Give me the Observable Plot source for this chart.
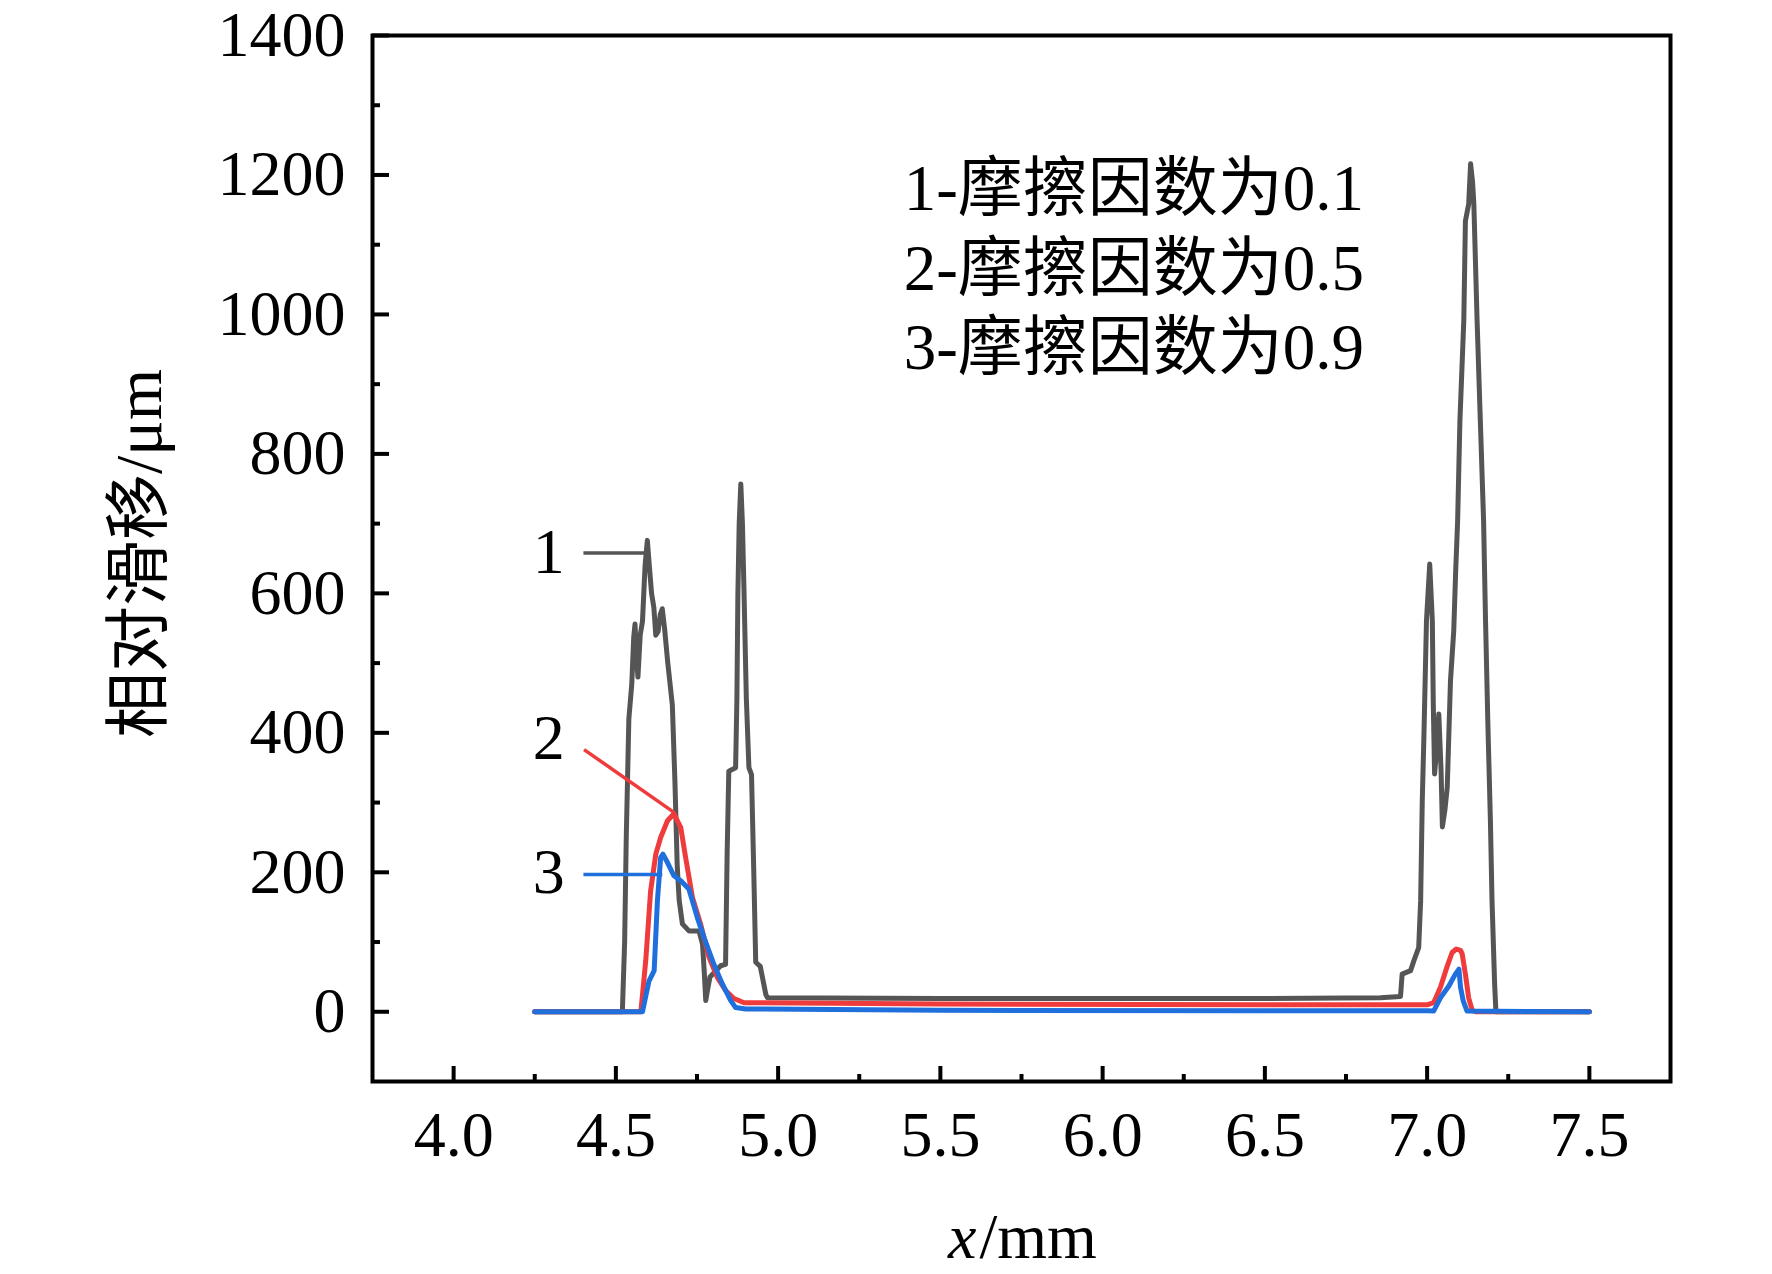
<!DOCTYPE html>
<html><head><meta charset="utf-8">
<script src="https://cdn.jsdelivr.net/npm/d3@7"></script>
<script src="https://cdn.jsdelivr.net/npm/@observablehq/plot@0.6"></script>
<style>body{margin:0;background:#fff} svg{display:block;max-width:none!important}</style>
</head><body><div id="chart"></div>
<script>
// ---- data ----
const xMajor = [4.0, 4.5, 5.0, 5.5, 6.0, 6.5, 7.0, 7.5];
const xMinor = [4.25, 4.75, 5.25, 5.75, 6.25, 6.75, 7.25];
const yMajor = [0, 200, 400, 600, 800, 1000, 1200, 1400];
const yMinor = [100, 300, 500, 700, 900, 1100, 1300];

// curve 1: friction coefficient 0.1
const curve1 = [[4.25,0],[4.52,0],[4.527,100],[4.532,250],[4.540,420],[4.549,470],[4.555,537],[4.559,556],[4.564,505],[4.568,480],[4.575,540],[4.582,560],[4.590,640],[4.597,676],[4.603,640],[4.610,600],[4.617,580],[4.623,540],[4.630,545],[4.637,570],[4.643,578],[4.650,550],[4.660,500],[4.674,440],[4.682,330],[4.689,210],[4.695,160],[4.705,126],[4.725,116],[4.756,116],[4.767,97],[4.772,60],[4.777,16],[4.782,30],[4.790,50],[4.823,66],[4.838,68],[4.843,230],[4.848,345],[4.869,350],[4.873,450],[4.876,600],[4.880,700],[4.885,757],[4.890,700],[4.895,600],[4.902,450],[4.910,350],[4.918,340],[4.925,200],[4.931,71],[4.945,65],[4.962,25],[4.967,20],[5.5,19],[6.0,19],[6.5,19],[6.856,20],[6.918,22],[6.923,54],[6.949,59],[6.959,73],[6.974,92],[6.980,159],[6.985,302],[6.990,393],[6.998,561],[7.008,642],[7.016,561],[7.019,441],[7.023,341],[7.030,380],[7.036,427],[7.043,346],[7.047,265],[7.055,290],[7.062,322],[7.072,475],[7.082,546],[7.088,632],[7.094,704],[7.101,847],[7.113,991],[7.118,1134],[7.128,1158],[7.134,1216],[7.140,1190],[7.144,1158],[7.154,991],[7.164,847],[7.174,704],[7.180,561],[7.187,417],[7.195,274],[7.200,159],[7.208,40],[7.212,0],[7.5,0]];

// curve 2: friction coefficient 0.5
const curve2 = [[4.25,0],[4.577,0],[4.592,73],[4.607,173],[4.623,226],[4.638,250],[4.659,274],[4.679,284],[4.700,264],[4.715,221],[4.736,164],[4.761,126],[4.787,78],[4.813,49],[4.839,30],[4.864,19],[4.895,13],[5.5,11],[6.5,10],[7.00,10],[7.020,13],[7.041,35],[7.061,64],[7.077,85],[7.090,90],[7.103,88],[7.108,83],[7.118,54],[7.128,20],[7.139,2],[7.15,0],[7.5,0]];

// curve 3: friction coefficient 0.9
const curve3 = [[4.25,0],[4.582,0],[4.602,44],[4.618,59],[4.628,159],[4.638,221],[4.645,226],[4.659,214],[4.679,195],[4.700,188],[4.725,176],[4.751,135],[4.772,106],[4.802,68],[4.828,40],[4.854,16],[4.869,6],[4.90,4],[5.5,2],[6.5,1.5],[7.00,1.5],[7.020,1],[7.041,20],[7.067,37],[7.087,54],[7.098,61],[7.103,35],[7.111,16],[7.123,1],[7.5,0]];

const seriesColors = ["#555555", "#ef3b3b", "#1f6fdc"];
const legendLines = ["1-摩擦因数为0.1", "2-摩擦因数为0.5", "3-摩擦因数为0.9"];
const calloutLabels = ["1", "2", "3"];
const calloutTextX = 4.293;
const calloutTextY = [659, 392, 200];
const calloutLines = [[4.40, 658, 4.587, 658], [4.402, 376, 4.679, 286], [4.40, 197, 4.643, 197]];
const yLabel = "相对滑移/μm";

const callouts = calloutLabels.map((t, i) => ({t, y: calloutTextY[i], x1: calloutLines[i][0], y1: calloutLines[i][1], x2: calloutLines[i][2], y2: calloutLines[i][3], c: seriesColors[i]}));

const FONT = '"Liberation Serif","Times New Roman","Noto Sans CJK SC",serif';

const chart = Plot.plot({
  width: 1772, height: 1274,
  marginLeft: 372, marginRight: 102, marginTop: 35, marginBottom: 193,
  style: {fontFamily: FONT, fontSize: "64px", background: "#fff", color: "#000"},
  x: {domain: [3.75, 7.75]},
  y: {domain: [-100, 1400]},
  marks: [
    Plot.axisX(xMajor, {tickSize: -15, tickPadding: 44, tickFormat: d => d.toFixed(1), strokeWidth: 4, label: null}),
    Plot.axisX(xMinor, {tickSize: -7, tickPadding: 0, tickFormat: () => "", strokeWidth: 4, label: null}),
    Plot.axisY(yMajor, {tickSize: -17, tickPadding: 44, tickFormat: d => String(d), strokeWidth: 4, label: null}),
    Plot.axisY(yMinor, {tickSize: -8, tickPadding: 0, tickFormat: () => "", strokeWidth: 4, label: null}),
    Plot.line(curve1, {x: d => d[0], y: d => d[1], stroke: seriesColors[0], strokeWidth: 5}),
    Plot.line(curve2, {x: d => d[0], y: d => d[1], stroke: seriesColors[1], strokeWidth: 5}),
    Plot.line(curve3, {x: d => d[0], y: d => d[1], stroke: seriesColors[2], strokeWidth: 5}),
    Plot.link(callouts, {x1: "x1", y1: "y1", x2: "x2", y2: "y2", stroke: "c", strokeWidth: 3.5}),
    Plot.text(callouts, {x: () => calloutTextX, y: "y", text: "t", fontSize: 64, fill: "#000", lineAnchor: "middle"}),
    Plot.text([legendLines.join("\n")], {x: () => 5.387, y: () => 1072, textAnchor: "start", lineAnchor: "middle", lineHeight: 1.22, fontSize: 65, fill: "#000"}),
    Plot.text([yLabel], {frameAnchor: "left", rotate: -90, dx: -233, dy: -5, textAnchor: "middle", lineAnchor: "middle", fontSize: 66, fill: "#000"}),
    Plot.text(["x"], {frameAnchor: "bottom", dx: -45, dy: 156, textAnchor: "end", lineAnchor: "middle", fontStyle: "italic", fontSize: 64, fill: "#000"}),
    Plot.text(["/mm"], {frameAnchor: "bottom", dx: -42, dy: 156, textAnchor: "start", lineAnchor: "middle", fontSize: 64, fill: "#000"}),
    Plot.frame({stroke: "#000", strokeWidth: 4})
  ]
});
document.getElementById("chart").appendChild(chart);
</script>
</body></html>
